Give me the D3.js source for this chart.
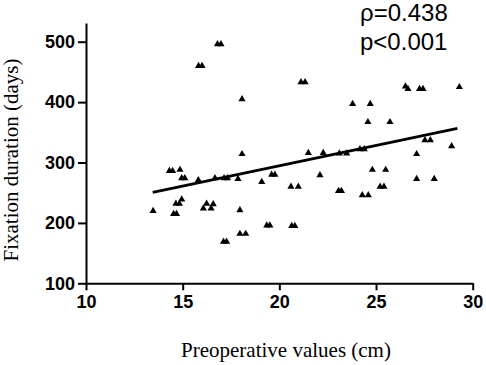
<!DOCTYPE html>
<html>
<head>
<meta charset="utf-8">
<script src="https://cdn.jsdelivr.net/npm/d3@7"></script>
<style>
  body { margin: 0; background: #fff; }
  .axis path, .axis line { stroke: #000; stroke-width: 2px; }
  .axis text { font-family: "Liberation Sans", Arial, sans-serif; font-weight: bold; font-size: 18px; fill: #000; }
</style>
</head>
<body>
<div id="chart"></div>
<script>
// Preoperative values (cm) vs fixation duration (days)
var preopX = [16.80, 16.98, 15.82, 16.00, 18.07, 18.07, 21.12, 21.33, 23.79, 24.70,
              24.58, 25.72, 26.52, 26.65, 27.25, 27.43, 29.31, 21.50, 22.27, 23.10,
              23.48, 24.17, 24.39, 27.53, 27.81, 28.91, 27.10, 14.31, 14.48, 14.86,
              14.95, 15.11, 15.81, 16.67, 17.14, 17.32, 17.86, 19.09, 19.60, 19.77,
              22.10, 24.81, 25.50, 27.10, 28.01, 14.95, 14.65, 14.83, 16.24, 16.58,
              16.07, 16.47, 13.47, 14.53, 14.68, 17.96, 20.60, 20.98, 23.06, 23.21,
              24.29, 24.60, 25.21, 25.41, 17.96, 18.26, 17.11, 17.27, 19.35, 19.51,
              20.64, 20.80];
var fixDays = [496, 496, 460, 460, 405, 314, 433, 433, 397, 397,
               367, 367, 426, 422, 422, 422, 425, 316, 316, 315,
               315, 322, 322, 337, 337, 327, 314, 286, 286, 288,
               274, 274, 271, 274, 274, 274, 273, 268, 280, 280,
               279, 288, 288, 273, 273, 239, 232, 232, 232, 231,
               224, 224, 220, 215, 215, 221, 260, 260, 253, 253,
               246, 246, 260, 260, 182, 182, 169, 169, 196, 196,
               195, 195];

// fitted line end points
var fitX = [13.45, 29.21];
var fitY = [250.7, 356.6];

var xTicks = [10, 15, 20, 25, 30];
var yTicks = [100, 200, 300, 400, 500];

var statLines = ["\u03c1=0.438", "p<0.001"];

var W = 486, H = 365;
var svg = d3.select("#chart").append("svg")
    .attr("width", W).attr("height", H);

var x = d3.scaleLinear().domain([10, 30]).range([86, 472.7]);
var y = d3.scaleLinear().domain([100, 531]).range([283.3, 23]);

// axes
svg.append("g")
   .attr("class", "axis")
   .attr("transform", "translate(0,283.3)")
   .call(d3.axisBottom(x).tickValues(xTicks).tickSize(7).tickSizeOuter(0).tickPadding(5));

svg.append("g")
   .attr("class", "axis")
   .attr("transform", "translate(86,0)")
   .call(d3.axisLeft(y).tickValues(yTicks).tickSize(8).tickSizeOuter(0).tickPadding(3));

// regression line
svg.append("line")
   .attr("x1", x(fitX[0])).attr("y1", y(fitY[0]))
   .attr("x2", x(fitX[1])).attr("y2", y(fitY[1]))
   .attr("stroke", "#000").attr("stroke-width", 2.8);

// points
var tri = d3.symbol().type(d3.symbolTriangle).size(22);
svg.selectAll(".pt")
   .data(preopX.map((v, i) => ({ x: v, y: fixDays[i] })))
   .enter().append("path")
   .attr("class", "pt")
   .attr("d", tri)
   .attr("transform", d => `translate(${x(d.x)},${y(d.y)})`)
   .attr("fill", "#000");

// stats text
svg.selectAll(".stat")
   .data(statLines)
   .enter().append("text")
   .attr("class", "stat")
   .attr("x", 360)
   .attr("y", (d, i) => 21 + i * 29)
   .style("font-family", "'Liberation Sans', Arial, sans-serif")
   .style("font-size", "24px")
   .text(d => d);

// axis titles
svg.append("text")
   .attr("x", 286).attr("y", 357)
   .attr("text-anchor", "middle")
   .style("font-family", "'Liberation Serif', 'Times New Roman', serif")
   .style("font-size", "21px")
   .text("Preoperative values (cm)");

svg.append("text")
   .attr("transform", "translate(18,160) rotate(-90)")
   .attr("text-anchor", "middle")
   .style("font-family", "'Liberation Serif', 'Times New Roman', serif")
   .style("font-size", "21px")
   .text("Fixation duration (days)");
</script>
</body>
</html>
